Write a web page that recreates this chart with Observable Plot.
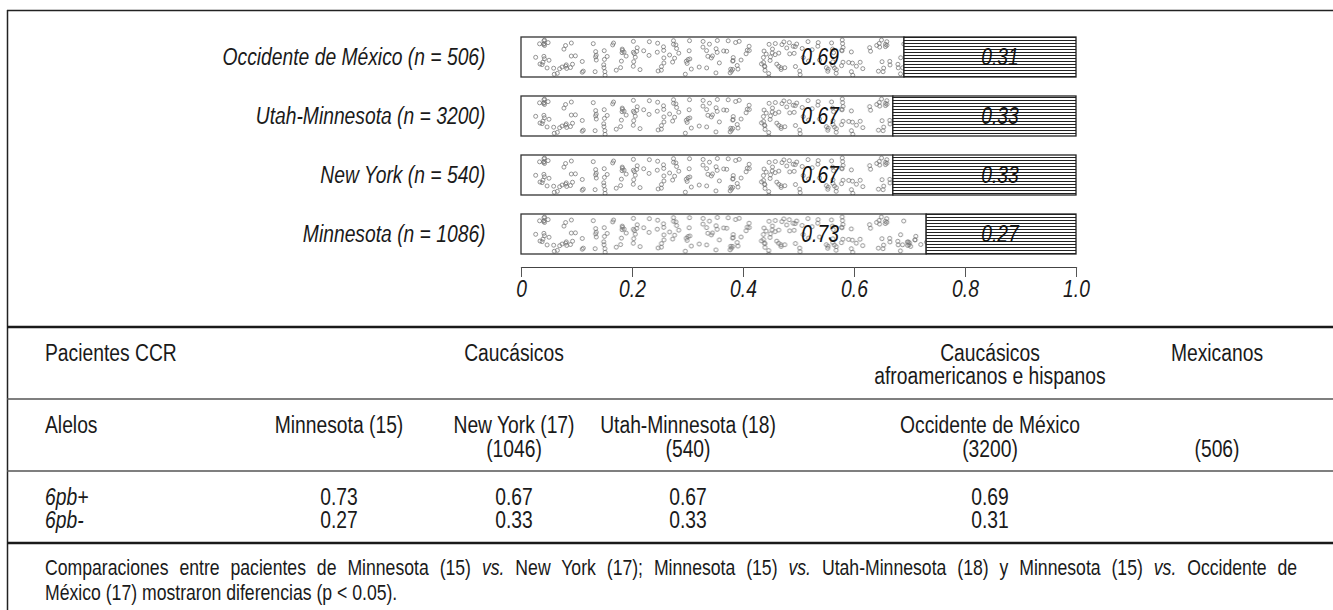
<!DOCTYPE html>
<html>
<head>
<meta charset="utf-8">
<script src="https://cdn.jsdelivr.net/npm/d3@7"></script>
<script src="https://cdn.jsdelivr.net/npm/@observablehq/plot@0.6"></script>
<style>
  html, body { margin: 0; padding: 0; background: #fff; }
  #page { position: relative; width: 1333px; height: 610px; overflow: hidden;
          font-family: "Liberation Sans", Arial, sans-serif; color: #1a1a1a; }
  #table, #chart { position: absolute; left: 0; top: 0; }
  .note { position: absolute; left: 45px; width: 1527px; font-size: 21.5px; line-height: 25px; color: #1a1a1a;
          transform-origin: 0 0; transform: scaleX(0.82); white-space: normal; }
  .note.j { text-align: justify; text-align-last: justify; }
  .note i { font-style: italic; }
</style>
</head>
<body>
<div id="page">
  <svg id="table" width="1333" height="610"></svg>
  <div id="chart"></div>
  <div class="note j" style="top:556px">Comparaciones entre pacientes de Minnesota (15) <i>vs.</i> New York (17); Minnesota (15) <i>vs.</i> Utah-Minnesota (18) y Minnesota (15) <i>vs.</i> Occidente de</div>
  <div class="note" style="top:581px">México (17) mostraron diferencias (p &lt; 0.05).</div>
</div>
<script>
// ---- data ----
const regions   = ["Occidente de México", "Utah-Minnesota", "New York", "Minnesota"];
const nSizes    = [506, 3200, 540, 1086];
const plusFreq  = [0.69, 0.67, 0.67, 0.73];   // 6pb+
const minusFreq = [0.31, 0.33, 0.33, 0.27];   // 6pb-
const xTicks      = [0, 0.2, 0.4, 0.6, 0.8, 1.0];
const xTickLabels = ["0", "0.2", "0.4", "0.6", "0.8", "1.0"];

// table texts
const tableGroups  = ["Caucásicos", "Caucásicos", "Mexicanos"];
const tableGroup2  = "afroamericanos e hispanos";
const tableCols    = ["Minnesota (15)", "New York (17)", "Utah-Minnesota (18)", "Occidente de México", ""];
const tableN       = ["", "(1046)", "(540)", "(3200)", "(506)"];
const tableOrder   = ["Minnesota", "New York", "Utah-Minnesota", "Occidente de México"];
const alleleLabels = ["6pb+", "6pb-"];

const FONT = '"Liberation Sans", Arial, sans-serif';
const NARROW = 0.82; // condensed look (Arial Narrow proportions)

// ---- chart ----
const rows = regions.map((r, i) => ({region: r, n: nSizes[i], plus: plusFreq[i], minus: minusFreq[i]}));
const nBy = new Map(rows.map(d => [d.region, d.n]));

const chart = Plot.plot({
  width: 1333,
  height: 326,
  marginLeft: 521,
  marginRight: 257,
  marginTop: 24,
  marginBottom: 59,
  x: {domain: [0, 1], label: null},
  y: {domain: regions, paddingInner: 0.32, paddingOuter: 0.2, label: null},
  style: {fontFamily: FONT, fontSize: "23.5px", fontStyle: "italic", color: "#1a1a1a", background: "transparent", overflow: "visible"},
  marks: [
    Plot.barX(rows, {y: "region", x1: () => 0, x2: "plus", fill: "url(#dots)", stroke: "#333", strokeWidth: 1.3}),
    Plot.barX(rows, {y: "region", x1: "plus", x2: d => d.plus + d.minus, fill: "url(#hlines)", stroke: "#222", strokeWidth: 1.3}),
    Plot.text(rows, {y: "region", x: () => 0.538, text: d => d.plus.toFixed(2), fill: "#111"}),
    Plot.text(rows, {y: "region", x: () => 0.862, text: d => d.minus.toFixed(2), fill: "#111"}),
    Plot.frame({anchor: "bottom", stroke: "#444", strokeWidth: 1.2}),
    Plot.axisX({ticks: xTicks, tickFormat: d => xTickLabels[xTicks.indexOf(d)], tickSize: 10, tickPadding: 3, stroke: "#555", fill: "#1a1a1a", label: null}),
    Plot.axisY({tickSize: 0, tickPadding: 36, tickFormat: r => `${r} (n = ${nBy.get(r)})`, fill: "#1a1a1a", label: null})
  ]
});

// texture patterns (decoration only)
const defs = d3.select(chart).insert("defs", ":first-child");
const dots = defs.append("pattern").attr("id", "dots")
  .attr("patternUnits", "objectBoundingBox").attr("x", 0).attr("y", 0).attr("width", 1).attr("height", 1);
dots.append("rect").attr("width", 700).attr("height", 80).attr("fill", "#fff");
let seed = 20231;
const rnd = () => (seed = (seed * 16807) % 2147483647) / 2147483647;
for (let i = 0; i < 270; i++) {
  const cx = 3 + rnd() * 560, cy = 3 + rnd() * 35;
  dots.append("circle").attr("cx", cx).attr("cy", cy).attr("r", 2)
    .attr("fill", "none").attr("stroke", "#707070").attr("stroke-width", 0.75);
  if (rnd() < 0.2) {
    dots.append("circle").attr("cx", cx + (rnd() - 0.5) * 3).attr("cy", cy + 3.6).attr("r", 2)
      .attr("fill", "none").attr("stroke", "#707070").attr("stroke-width", 0.75);
  }
}
const hl = defs.append("pattern").attr("id", "hlines")
  .attr("patternUnits", "userSpaceOnUse").attr("x", 0).attr("y", 0).attr("width", 10).attr("height", 3);
hl.append("rect").attr("width", 10).attr("height", 3).attr("fill", "#fff");
hl.append("rect").attr("y", 1).attr("width", 10).attr("height", 1).attr("fill", "#222");

document.getElementById("chart").appendChild(chart);

// ---- table below the chart ----
const t = d3.select("#table").style("font-family", FONT).style("font-size", "23.5px");
const line = (y, w, c, x1 = 7) => t.append("line").attr("x1", x1).attr("x2", 1333).attr("y1", y).attr("y2", y)
  .attr("stroke", c).attr("stroke-width", w);
line(10.5, 1.5, "#222");
t.append("line").attr("x1", 7.5).attr("x2", 7.5).attr("y1", 10).attr("y2", 610).attr("stroke", "#222").attr("stroke-width", 1.5);
line(327, 2.6, "#1a1a1a");
line(399, 1.6, "#555");
line(471, 1.6, "#555");
line(543, 2.6, "#1a1a1a");

const txt = (s, x, y, anchor = "middle", italic = false) =>
  t.append("text").attr("x", x).attr("y", y).attr("text-anchor", anchor).attr("fill", "#1a1a1a")
   .style("font-style", italic ? "italic" : "normal").text(s);

const leftX = 45;
const colX = [339, 514, 688, 990, 1217];

// header row
txt("Pacientes CCR", leftX, 361, "start");
txt(tableGroups[0], colX[1], 361);
txt(tableGroups[1], colX[3], 361);
txt(tableGroup2, colX[3], 384);
txt(tableGroups[2], colX[4], 361);

// population row
txt("Alelos", leftX, 433, "start");
tableCols.forEach((s, i) => { if (s) txt(s, colX[i], 433); });
tableN.forEach((s, i) => { if (s) txt(s, colX[i], 457); });

// allele frequency rows
txt(alleleLabels[0], leftX, 505, "start", true);
txt(alleleLabels[1], leftX, 528, "start", true);
tableOrder.forEach((r, i) => {
  const k = regions.indexOf(r);
  txt(plusFreq[k].toFixed(2), colX[i], 505);
  txt(minusFreq[k].toFixed(2), colX[i], 528);
});

// condense all SVG text to narrow proportions
document.querySelectorAll("#page svg text").forEach(el => {
  const w = el.getComputedTextLength();
  if (w > 0) {
    el.setAttribute("textLength", (w * NARROW).toFixed(2));
    el.setAttribute("lengthAdjust", "spacingAndGlyphs");
  }
});
</script>
</body>
</html>
